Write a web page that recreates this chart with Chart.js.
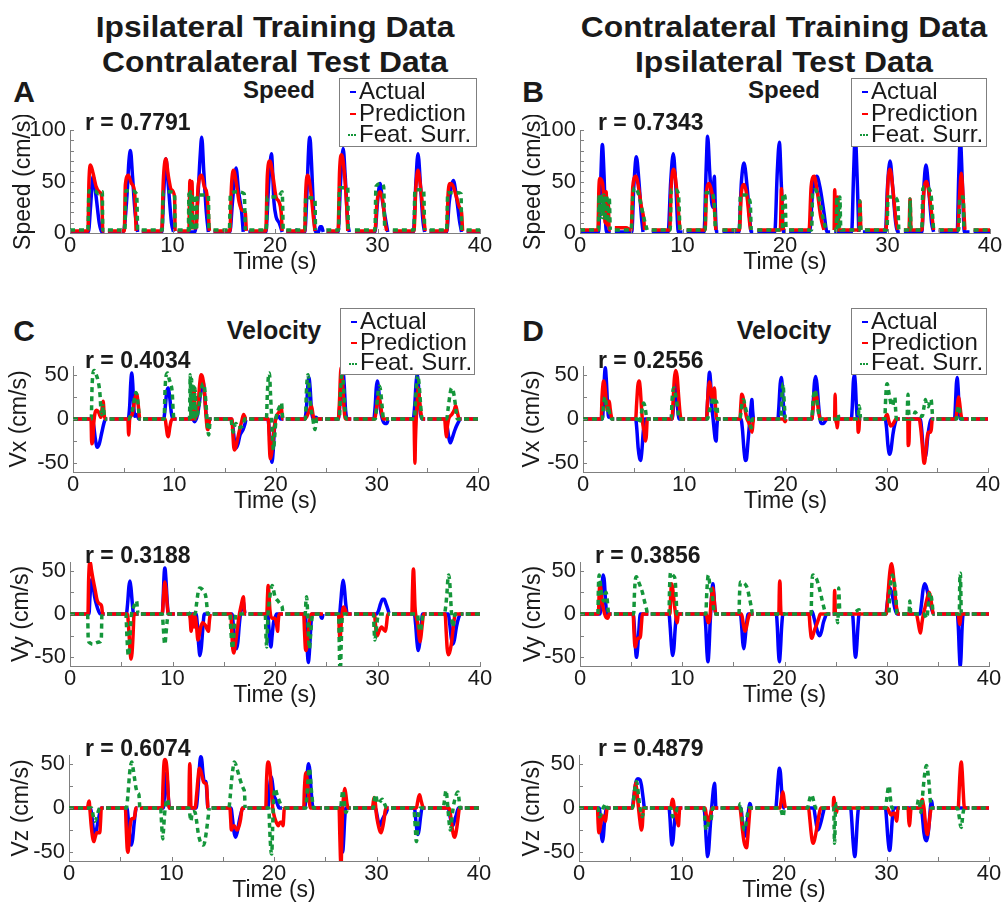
<!DOCTYPE html>
<html>
<head>
<meta charset="utf-8">
<script src="https://cdn.jsdelivr.net/npm/chart.js@4.4.0/dist/chart.umd.min.js"></script>
<style>
body{margin:0;background:#fff;width:1003px;height:905px;position:relative;overflow:hidden;font-family:"Liberation Sans",Arial,sans-serif;color:#1a1a1a}
canvas{position:absolute}
.t{position:absolute;white-space:nowrap;line-height:1;transform:translate(-50%,-50%)}
.w{transform:translate(-50%,-50%) scaleX(1.06)}
.l{position:absolute;white-space:nowrap;line-height:1;transform:translateY(-50%)}
.b{font-weight:bold}
.leg{position:absolute;border:1px solid #7f7f7f;background:#fff;box-sizing:border-box}
.leg div{position:absolute;left:19px;font-size:24px;line-height:1;transform:translateY(-50%)}
.leg span{position:absolute;left:-9px;top:52%;width:6px;border-top:2px solid}
</style>
</head>
<body>
<div class="t w b" style="left:275px;top:27px;font-size:30px">Ipsilateral Training Data</div>
<div class="t w b" style="left:275px;top:62px;font-size:30px">Contralateral Test Data</div>
<div class="t w b" style="left:784px;top:27px;font-size:30px">Contralateral Training Data</div>
<div class="t w b" style="left:784px;top:62px;font-size:30px">Ipsilateral Test Data</div>

<div class="t b" style="left:24px;top:92px;font-size:30px">A</div>
<div class="t b" style="left:533px;top:92px;font-size:30px">B</div>
<div class="t b" style="left:24px;top:331px;font-size:30px">C</div>
<div class="t b" style="left:533px;top:331px;font-size:30px">D</div>

<div id="charts"></div>

<div class="t b" style="left:279px;top:90px;font-size:24px">Speed</div>
<div class="t b" style="left:784px;top:90px;font-size:24px">Speed</div>
<div class="t b" style="left:274px;top:330px;font-size:25px">Velocity</div>
<div class="t b" style="left:784px;top:330px;font-size:25px">Velocity</div>

<div class="l b" style="left:85px;top:122px;font-size:23px">r = 0.7791</div>
<div class="l b" style="left:598px;top:122px;font-size:23px">r = 0.7343</div>
<div class="l b" style="left:85px;top:360px;font-size:23px">r = 0.4034</div>
<div class="l b" style="left:598px;top:360px;font-size:23px">r = 0.2556</div>
<div class="l b" style="left:85px;top:555px;font-size:23px">r = 0.3188</div>
<div class="l b" style="left:595px;top:555px;font-size:23px">r = 0.3856</div>
<div class="l b" style="left:85px;top:748px;font-size:23px">r = 0.6074</div>
<div class="l b" style="left:598px;top:748px;font-size:23px">r = 0.4879</div>

<div id="legends"></div>

<script>
// tick values
const timeTicks = [0, 10, 20, 30, 40];
const timeMinor = [0, 5, 10, 15, 20, 25, 30, 35, 40];
const speedTicks = [0, 50, 100];
const speedMinor = [0, 10, 20, 30, 40, 50, 60, 70, 80, 90, 100];
const velTicks = [-50, 0, 50];
const velMinor = [-50, -25, 0, 25, 50];
const seriesNames = ["Actual", "Prediction", "Feat. Surr."];

// A: speed, ipsi train / contra test   ([t, v]; v = null marks a break)
const aSpdAct = [[0,1],[1.8,1],[2.0,25],[2.25,55],[2.55,35],[2.85,10],[3.1,1],[3.35,1],[3.5,null],[3.7,1],
  [5.2,1],[5.55,35],[5.75,70],[5.9,80],[6.1,55],[6.35,20],[6.6,1],[6.8,null],[7.0,1],
  [8.95,1],[9.15,40],[9.35,72],[9.6,45],[9.9,10],[10.1,1],[10.3,null],[10.5,1],
  [12.2,1],[12.45,30],[12.7,75],[12.85,93],[13.05,60],[13.3,20],[13.5,1],[13.8,null],[14.0,1],
  [15.6,1],[15.85,30],[16.2,63],[16.45,40],[16.75,20],[16.9,1],[17.2,null],[17.4,1],
  [19.1,1],[19.4,50],[19.65,77],[19.9,30],[20.1,16],[20.4,10],[20.7,1],[20.9,null],[21.1,1],
  [21.9,1],[22.1,3],[22.3,1],[22.9,1],[23.1,35],[23.3,85],[23.4,93],[23.55,70],[23.75,25],[23.95,1],[24.25,1],[24.4,6],[24.55,6],[24.7,1],[24.8,null],[25.0,1],
  [26.15,1],[26.4,50],[26.65,82],[26.85,55],[27.1,10],[27.25,1],[27.6,null],[27.8,1],
  [29.75,1],[30.0,30],[30.25,48],[30.5,30],[30.75,15],[31.0,1],[31.3,null],[31.5,1],
  [33.5,1],[33.75,50],[33.95,77],[34.2,45],[34.45,10],[34.6,1],[34.9,null],[35.1,1],
  [36.75,1],[37.0,30],[37.4,51],[37.7,35],[38.0,12],[38.2,1],[38.5,null],[38.7,1],[40,1]];
const aSpdPred = [[0,2],[1.75,2],[1.85,50],[2.0,66],[2.25,58],[2.55,45],[2.85,40],[3.1,35],[3.2,2],[3.35,2],[3.5,null],[3.7,2],
  [5.3,2],[5.4,47],[5.7,56],[6.0,48],[6.3,40],[6.45,2],[6.8,null],[7.0,2],
  [8.95,2],[9.1,50],[9.35,72],[9.6,55],[9.9,42],[10.2,35],[10.25,2],[10.35,null],[10.5,2],
  [11.6,2],[11.7,51],[11.8,5],[11.9,50],[12.0,5],[12.3,5],[12.5,45],[12.85,56],[13.1,45],[13.35,38],[13.6,2],[13.8,null],[14.0,2],
  [15.6,2],[15.75,45],[15.95,61],[16.2,50],[16.5,30],[16.8,22],[17.1,20],[17.2,2],[17.3,null],[17.5,2],
  [19.1,2],[19.25,55],[19.5,70],[19.8,55],[20.1,35],[20.4,30],[20.6,20],[20.7,2],[20.9,null],[21.1,2],
  [22.9,2],[23.0,40],[23.2,56],[23.5,40],[23.75,15],[23.9,2],[24.8,null],[25.0,2],
  [26.15,2],[26.3,60],[26.5,76],[26.75,60],[27.0,25],[27.1,2],[27.6,null],[27.8,2],
  [29.75,2],[29.95,30],[30.25,40],[30.5,32],[30.75,10],[30.9,2],[31.3,null],[31.5,2],
  [33.55,2],[33.75,45],[33.95,61],[34.2,45],[34.5,15],[34.65,2],[34.9,null],[35.1,2],
  [36.75,2],[36.9,40],[37.1,48],[37.4,45],[37.7,35],[38.0,25],[38.2,20],[38.3,2],[38.5,null],[38.7,2],[40,2]];
const aSpdSurr = [[0,3],[1.75,3],[1.85,41],[2.4,41],[2.8,38],[3.15,40],[3.2,3],[3.35,3],[3.5,null],[3.7,3],
  [5.35,3],[5.45,41],[6.0,41],[6.5,38],[6.6,3],[6.8,null],[7.0,3],
  [9.0,3],[9.1,40],[9.7,40],[10.2,38],[10.25,3],[10.35,null],[10.5,3],
  [11.55,3],[11.6,38],[11.65,3],[11.75,40],[11.8,3],[11.9,38],[11.95,3],[12.1,3],[12.15,37],[12.2,3],[12.35,3],[12.4,37],[13.0,37],[13.5,36],[13.55,3],[13.8,null],[14.0,3],
  [15.55,3],[15.65,38],[16.3,40],[17.0,38],[17.1,3],[17.3,null],[17.5,3],
  [19.15,3],[19.25,35],[19.8,35],[20.4,36],[20.7,40],[20.8,3],[20.9,null],[21.1,3],
  [22.9,3],[23.0,35],[23.6,34],[23.9,33],[23.95,3],[24.8,null],[25.0,3],
  [26.2,3],[26.3,44],[27.1,44],[27.15,3],[27.6,null],[27.8,3],
  [29.75,3],[29.85,45],[30.3,48],[30.6,45],[30.7,3],[31.3,null],[31.5,3],
  [33.55,3],[33.65,42],[34.5,42],[34.6,3],[34.9,null],[35.1,3],
  [36.75,3],[36.85,39],[37.8,39],[38.15,38],[38.2,3],[38.5,null],[38.7,3],[40,3]];

// B: speed, contra train / ipsi test
const bSpdAct = [[0,1],[1.8,1],[2.0,45],[2.18,86],[2.35,55],[2.5,10],[2.6,1],[3.0,1],[3.2,null],[3.4,1],
  [5.05,1],[5.25,45],[5.5,74],[5.75,50],[6.0,15],[6.15,1],[6.8,null],[7.0,1],
  [8.6,1],[8.85,50],[9.1,77],[9.35,45],[9.6,1],[10.0,1],[10.2,null],[10.4,1],
  [12.1,1],[12.3,60],[12.45,94],[12.65,60],[12.85,30],[12.95,25],[13.1,55],[13.2,25],[13.3,1],[13.5,1],[13.7,null],[13.9,1],
  [15.5,1],[15.75,50],[16.0,68],[16.3,45],[16.55,15],[16.7,1],[16.9,1],[17.1,null],[17.3,1],
  [19.0,1],[19.25,60],[19.45,88],[19.65,45],[19.85,1],[20.0,1],[20.2,null],[20.4,1],
  [22.4,1],[22.7,40],[23.1,55],[23.4,45],[23.8,20],[24.1,1],[24.4,1],[24.6,null],[24.8,1],
  [26.5,1],[26.7,60],[26.85,95],[27.05,50],[27.2,1],[27.4,null],[27.6,1],
  [29.8,1],[30.0,45],[30.25,70],[30.5,45],[30.8,10],[31.0,1],[31.2,1],[31.4,null],[31.6,1],
  [33.35,1],[33.55,45],[33.75,66],[34.0,45],[34.3,10],[34.5,1],[34.8,null],[35.0,1],
  [36.8,1],[36.95,55],[37.1,92],[37.3,50],[37.5,1],[38.0,1],[38.2,null],[38.4,1],[40,1]];
const bSpdPred = [[0,3],[1.75,3],[1.85,45],[1.95,53],[2.2,48],[2.35,30],[2.45,10],[2.55,40],[2.65,8],[2.75,30],[2.85,3],[3.0,3],[3.2,null],[3.4,5],[4.5,5],[5.0,3],
  [5.15,45],[5.45,55],[5.75,42],[6.0,25],[6.2,15],[6.3,3],[6.8,null],[7.0,3],
  [8.75,3],[8.9,45],[9.15,62],[9.4,45],[9.65,15],[9.75,3],[10.2,null],[10.4,3],
  [12.2,3],[12.35,40],[12.6,48],[12.85,40],[13.1,25],[13.25,3],[13.7,null],[13.9,3],
  [15.55,3],[15.75,40],[16.0,47],[16.3,35],[16.55,10],[16.65,3],[17.1,null],[17.3,3],
  [19.55,3],[19.65,43],[19.75,10],[19.9,3],[20.2,null],[20.4,3],
  [22.35,3],[22.55,45],[22.85,55],[23.15,40],[23.5,15],[23.8,3],[24.6,null],[24.8,3],
  [24.85,42],[24.95,3],[25.1,3],[25.15,35],[25.25,3],
  [27.25,3],[27.3,31],[27.4,3],[27.6,null],[27.8,3],
  [29.85,3],[30.05,50],[30.25,62],[30.55,40],[30.85,10],[31.0,3],[31.4,null],[31.6,3],
  [32.1,3],[32.2,33],[32.3,3],[33.35,3],[33.55,40],[33.8,50],[34.1,35],[34.35,15],[34.5,3],[34.8,null],[35.0,3],
  [36.85,3],[37.0,30],[37.2,58],[37.4,30],[37.55,3],[38.2,null],[38.4,3],[40,3]];
const bSpdSurr = [[0,3],[1.8,3],[1.85,37],[1.95,15],[2.05,37],[2.2,15],[2.35,37],[2.5,12],[2.6,37],[2.75,10],[2.85,35],[2.95,3],[3.2,null],[3.4,3],
  [5.0,3],[5.15,35],[5.35,44],[5.7,38],[6.0,25],[6.3,12],[6.55,3],[6.8,null],[7.0,3],
  [8.8,3],[8.9,42],[9.3,42],[9.6,38],[9.75,3],[10.2,null],[10.4,3],
  [12.2,3],[12.3,39],[12.8,39],[13.1,30],[13.2,3],[13.7,null],[13.9,3],
  [15.55,3],[15.65,37],[16.1,37],[16.6,30],[16.7,3],[17.1,null],[17.3,3],
  [19.75,3],[19.8,38],[20.0,35],[20.1,3],[20.2,null],[20.4,3],
  [22.6,3],[22.7,40],[22.9,42],[23.3,35],[23.7,15],[24.0,3],[24.6,null],[24.8,3],
  [25.0,3],[25.05,35],[25.15,3],[25.3,3],[25.35,35],[25.45,3],
  [27.25,3],[27.3,31],[27.4,3],[27.6,null],[27.8,3],
  [29.95,3],[30.05,35],[30.6,35],[31.0,30],[31.1,3],[31.4,null],[31.6,3],
  [32.15,3],[32.2,33],[32.3,3],[33.35,3],[33.45,43],[33.65,45],[34.2,40],[34.5,3],[34.8,null],[35.0,3],
  [36.95,3],[37.05,35],[37.4,35],[37.45,3],[38.2,null],[38.4,3],[40,3]];

// C: Vx, ipsi train
const cVxAct = [[0,0],[1.9,0],[2.05,-8],[2.2,-22],[2.4,-32],[2.6,-28],[2.85,-15],[3.1,-3],[3.25,0],[3.38,0],[3.5,null],[3.62,0],
  [5.45,0],[5.6,15],[5.7,40],[5.8,52],[5.9,40],[6.0,15],[6.1,3],[6.3,5],[6.5,0],[6.68,0],[6.8,null],[6.92,0],
  [8.95,0],[9.1,12],[9.25,30],[9.4,35],[9.55,25],[9.7,8],[9.85,0],[10.23,0],[10.35,null],[10.47,0],
  [11.8,0],[12.0,-3],[12.3,5],[12.5,20],[12.7,38],[12.85,42],[13.0,28],[13.15,5],[13.3,-3],[13.5,0],[13.68,0],[13.8,null],[13.92,0],
  [15.65,0],[15.8,-10],[15.95,-25],[16.1,-33],[16.3,-28],[16.5,-18],[16.8,-12],[17.0,-5],[17.1,0],[17.18,0],[17.3,null],[17.42,0],
  [19.25,0],[19.4,-15],[19.55,-40],[19.65,-49],[19.78,-35],[19.9,-10],[20.0,0],[20.3,3],[20.5,0],[20.78,0],[20.9,null],[21.02,0],
  [22.9,0],[23.05,12],[23.2,38],[23.3,47],[23.42,35],[23.55,10],[23.7,0],[24.0,2],[24.2,0],[24.68,0],[24.8,null],[24.92,0],
  [26.2,0],[26.35,15],[26.5,45],[26.65,57],[26.78,40],[26.92,10],[27.1,0],[27.48,0],[27.6,null],[27.72,0],
  [29.7,0],[29.85,15],[29.95,35],[30.05,43],[30.2,32],[30.35,12],[30.55,0],[30.8,-5],[31.0,-5],[31.15,0],[31.18,0],[31.3,null],[31.42,0],
  [33.6,0],[33.75,15],[33.88,40],[34.0,50],[34.12,38],[34.25,12],[34.45,0],[34.78,0],[34.9,null],[35.02,0],
  [36.8,0],[36.95,-8],[37.1,-20],[37.25,-27],[37.45,-22],[37.7,-13],[38.0,-5],[38.3,0],[38.38,0],[38.5,null],[38.62,0],[40,0]];
const cVxPred = [[0,0],[1.78,0],[1.85,-28],[1.95,-25],[2.05,-5],[2.2,8],[2.35,10],[2.55,7],[2.75,2],[2.9,15],[2.98,20],[3.08,5],[3.2,0],[3.38,0],[3.5,null],[3.62,0],
  [5.42,0],[5.5,-18],[5.6,0],[5.85,5],[6.0,15],[6.15,25],[6.3,28],[6.45,15],[6.6,0],[6.68,0],[6.8,null],[6.92,0],
  [9.1,0],[9.2,-8],[9.32,-18],[9.42,-20],[9.55,-10],[9.7,-2],[9.85,0],[10.23,0],[10.35,null],[10.47,0],
  [11.7,0],[11.78,30],[11.85,0],[11.95,35],[12.05,0],[12.35,15],[12.5,38],[12.65,50],[12.8,47],[12.95,35],[13.1,10],[13.25,-10],[13.35,-12],[13.5,0],[13.68,0],[13.8,null],[13.92,0],
  [15.7,0],[15.78,-15],[15.88,-32],[15.98,-35],[16.15,-28],[16.4,-15],[16.65,-3],[16.85,5],[16.95,3],[17.05,0],[17.18,0],[17.3,null],[17.42,0],
  [19.3,0],[19.38,-25],[19.48,-45],[19.6,-40],[19.75,-25],[19.9,-8],[20.1,3],[20.35,8],[20.55,15],[20.65,5],[20.72,0],[20.78,0],[20.9,null],[21.02,0],
  [22.9,0],[23.1,3],[23.35,10],[23.55,15],[23.7,5],[23.8,0],[24.68,0],[24.8,null],[24.92,0],
  [26.2,0],[26.32,20],[26.42,50],[26.5,58],[26.6,45],[26.75,15],[26.9,0],[27.48,0],[27.6,null],[27.72,0],
  [29.8,0],[29.95,10],[30.1,22],[30.2,25],[30.35,18],[30.5,6],[30.65,0],[31.18,0],[31.3,null],[31.42,0],
  [33.68,0],[33.73,-30],[33.77,-50],[33.82,-25],[33.9,0],[34.0,20],[34.1,35],[34.2,25],[34.35,8],[34.5,0],[34.78,0],[34.9,null],[35.02,0],
  [36.7,0],[36.8,-12],[36.88,-20],[36.98,-8],[37.1,0],[37.4,5],[37.65,10],[37.8,15],[37.95,8],[38.15,0],[38.38,0],[38.5,null],[38.62,0],[40,0]];
const cVxSurr = [[0,0],[1.8,0],[1.88,35],[1.98,52],[2.1,55],[2.3,50],[2.5,42],[2.65,30],[2.78,8],[2.88,5],[2.98,15],[3.08,5],[3.15,0],[3.38,0],[3.5,null],[3.62,0],
  [5.5,0],[5.7,5],[5.9,12],[6.05,22],[6.2,30],[6.35,25],[6.5,8],[6.58,0],[6.68,0],[6.8,null],[6.92,0],
  [9.0,0],[9.08,30],[9.18,48],[9.35,52],[9.5,45],[9.65,40],[9.8,30],[9.9,8],[9.98,0],[10.23,0],[10.35,null],[10.47,0],
  [11.5,0],[11.58,50],[11.65,0],[11.72,45],[11.8,0],[11.88,40],[11.95,0],[12.05,35],[12.15,0],[12.45,15],[12.65,32],[12.85,40],[13.0,35],[13.15,15],[13.3,-10],[13.4,-18],[13.52,-5],[13.6,0],[13.68,0],[13.8,null],[13.92,0],
  [15.6,0],[15.72,-10],[15.82,-15],[15.95,-8],[16.1,-5],[16.3,-10],[16.6,-9],[16.85,-6],[16.95,0],[17.18,0],[17.3,null],[17.42,0],
  [19.1,0],[19.2,30],[19.3,48],[19.4,52],[19.5,30],[19.62,0],[19.72,-25],[19.8,-35],[19.92,-20],[20.05,0],[20.25,10],[20.5,16],[20.6,18],[20.68,5],[20.75,0],[20.78,0],[20.9,null],[21.02,0],
  [22.95,0],[23.05,30],[23.15,48],[23.22,50],[23.35,30],[23.5,12],[23.65,3],[23.8,-8],[23.9,-12],[24.0,-5],[24.1,0],[24.68,0],[24.8,null],[24.92,0],
  [26.3,0],[26.42,30],[26.52,50],[26.6,55],[26.7,40],[26.85,12],[27.0,0],[27.48,0],[27.6,null],[27.72,0],
  [29.85,0],[30.0,15],[30.15,32],[30.28,37],[30.4,30],[30.55,12],[30.68,0],[31.18,0],[31.3,null],[31.42,0],
  [33.72,0],[33.82,20],[33.95,42],[34.05,50],[34.18,40],[34.32,18],[34.48,0],[34.78,0],[34.9,null],[35.02,0],
  [36.9,0],[37.05,12],[37.2,25],[37.38,35],[37.55,32],[37.72,20],[37.88,5],[37.95,0],[38.38,0],[38.5,null],[38.62,0],[40,0]];

// D: Vx, contra train
const dVxAct = [[0,0],[1.92,0],[2.02,20],[2.12,48],[2.2,58],[2.3,45],[2.42,18],[2.52,2],[2.7,3],[2.85,0],[3.08,0],[3.2,null],[3.32,0],
  [5.2,0],[5.32,-12],[5.45,-33],[5.6,-45],[5.68,-47],[5.8,-38],[5.95,-15],[6.1,0],[6.68,0],[6.8,null],[6.92,0],
  [8.8,0],[8.92,12],[9.02,32],[9.12,40],[9.22,32],[9.35,12],[9.5,0],[10.08,0],[10.2,null],[10.32,0],
  [12.2,0],[12.3,18],[12.42,45],[12.5,53],[12.6,42],[12.72,15],[12.85,0],[12.95,-12],[13.05,-22],[13.15,-25],[13.22,-10],[13.3,0],[13.58,0],[13.7,null],[13.82,0],
  [15.6,0],[15.75,-12],[15.9,-35],[16.05,-47],[16.15,-45],[16.3,-25],[16.45,-5],[16.58,12],[16.68,22],[16.75,10],[16.85,0],[16.98,0],[17.1,null],[17.22,0],
  [19.25,0],[19.35,15],[19.48,40],[19.58,47],[19.68,38],[19.8,15],[19.95,0],[20.08,0],[20.2,null],[20.32,0],
  [22.6,0],[22.72,15],[22.85,40],[22.98,48],[23.1,40],[23.25,18],[23.4,0],[23.55,-5],[23.75,-5],[23.95,-2],[24.1,0],[24.48,0],[24.6,null],[24.72,0],
  [26.5,0],[26.6,15],[26.7,42],[26.8,50],[26.9,40],[27.0,15],[27.12,0],[27.48,0],[27.6,null],[27.72,0],
  [29.85,0],[29.98,-10],[30.12,-30],[30.28,-40],[30.42,-35],[30.6,-18],[30.8,-6],[31.0,0],[31.28,0],[31.4,null],[31.52,0],
  [33.3,0],[33.45,-12],[33.6,-35],[33.75,-45],[33.9,-38],[34.05,-20],[34.25,-5],[34.4,0],[34.68,0],[34.8,null],[34.92,0],
  [36.7,0],[36.78,15],[36.88,40],[36.95,47],[37.05,35],[37.15,12],[37.28,0],[38.08,0],[38.2,null],[38.32,0],[40,0]];
const dVxPred = [[0,0],[1.8,0],[1.88,25],[1.98,40],[2.06,43],[2.15,38],[2.28,22],[2.4,10],[2.5,12],[2.6,20],[2.68,12],[2.78,4],[2.9,0],[3.08,0],[3.2,null],[3.32,0],
  [5.2,0],[5.3,18],[5.42,38],[5.55,43],[5.65,35],[5.78,12],[5.9,-5],[6.05,-15],[6.15,-25],[6.25,-20],[6.35,0],[6.68,0],[6.8,null],[6.92,0],
  [8.8,0],[8.9,20],[9.02,45],[9.15,55],[9.3,48],[9.45,25],[9.6,5],[9.7,0],[10.08,0],[10.2,null],[10.32,0],
  [12.2,0],[12.3,20],[12.42,38],[12.52,42],[12.65,30],[12.78,22],[12.9,32],[12.98,35],[13.08,15],[13.2,0],[13.58,0],[13.7,null],[13.82,0],
  [15.5,0],[15.6,18],[15.68,28],[15.8,25],[15.95,15],[16.15,2],[16.4,-5],[16.6,-12],[16.7,-15],[16.78,-5],[16.85,0],[16.98,0],[17.1,null],[17.22,0],
  [19.8,0],[19.95,-3],[20.08,0],[20.2,null],[20.32,0],
  [22.6,0],[22.72,12],[22.85,25],[22.95,30],[23.08,25],[23.25,10],[23.45,0],[24.48,0],[24.6,null],[24.72,0],
  [24.85,0],[24.9,28],[24.96,0],[25.05,-5],[25.12,-10],[25.2,0],
  [27.12,0],[27.18,-15],[27.25,-12],[27.32,0],[27.48,0],[27.6,null],[27.72,0],
  [29.8,0],[29.95,4],[30.05,5],[30.2,-2],[30.4,-8],[30.55,-7],[30.75,-3],[30.9,0],[31.28,0],[31.4,null],[31.52,0],
  [32.08,0],[32.12,-30],[32.2,-25],[32.26,0],[33.2,0],[33.35,-10],[33.5,-28],[33.65,-48],[33.72,-50],[33.85,-38],[34.0,-20],[34.1,-15],[34.3,-15],[34.4,-12],[34.5,0],[34.68,0],[34.8,null],[34.92,0],
  [36.8,0],[36.92,8],[37.02,20],[37.1,25],[37.2,18],[37.32,6],[37.45,0],[38.08,0],[38.2,null],[38.32,0],[40,0]];
const dVxSurr = [[0,0],[1.9,0],[2.0,12],[2.1,22],[2.2,25],[2.3,15],[2.4,10],[2.5,15],[2.6,8],[2.7,3],[2.8,0],[3.08,0],[3.2,null],[3.32,0],
  [5.4,0],[5.55,-5],[5.7,2],[5.85,12],[5.98,18],[6.1,15],[6.2,8],[6.3,0],[6.68,0],[6.8,null],[6.92,0],
  [8.7,0],[8.8,22],[8.9,33],[8.98,35],[9.1,30],[9.25,20],[9.38,8],[9.5,0],[10.08,0],[10.2,null],[10.32,0],
  [12.3,0],[12.45,8],[12.65,15],[12.8,22],[12.9,25],[13.0,15],[13.08,10],[13.18,20],[13.25,15],[13.32,0],[13.58,0],[13.7,null],[13.82,0],
  [15.5,0],[15.62,10],[15.75,20],[15.85,22],[16.0,15],[16.15,8],[16.35,0],[16.55,-8],[16.62,-10],[16.72,0],[16.98,0],[17.1,null],[17.22,0],
  [19.55,0],[19.62,20],[19.7,35],[19.76,40],[19.82,30],[19.92,10],[20.0,0],[20.08,0],[20.2,null],[20.32,0],
  [22.6,0],[22.7,18],[22.82,30],[22.92,33],[23.05,25],[23.2,12],[23.4,0],[24.48,0],[24.6,null],[24.72,0],
  [25.12,0],[25.2,5],[25.28,0],[27.18,0],[27.26,15],[27.35,10],[27.42,0],[27.48,0],[27.6,null],[27.72,0],
  [29.8,0],[29.9,25],[29.98,38],[30.05,40],[30.18,32],[30.3,24],[30.45,16],[30.58,15],[30.72,22],[30.8,25],[30.88,10],[30.95,0],[31.28,0],[31.4,null],[31.52,0],
  [32.0,0],[32.06,20],[32.1,28],[32.16,10],[32.22,0],[32.6,0],[32.8,8],[33.0,5],[33.5,3],[33.7,15],[33.82,22],[33.95,15],[34.1,14],[34.25,20],[34.38,22],[34.48,10],[34.55,0],[34.68,0],[34.8,null],[34.92,0],
  [36.9,0],[36.98,8],[37.06,14],[37.12,15],[37.22,8],[37.35,0],[38.08,0],[38.2,null],[38.32,0],[40,0]];

// E: Vy, ipsi train
const eVyAct = [[0,0],[1.85,0],[1.95,20],[2.05,35],[2.12,40],[2.25,33],[2.4,20],[2.6,10],[2.8,3],[2.95,0],[3.38,0],[3.5,null],[3.62,0],
  [5.5,0],[5.62,12],[5.75,32],[5.85,38],[5.95,30],[6.08,12],[6.2,0],[6.68,0],[6.8,null],[6.92,0],
  [9.0,0],[9.08,15],[9.18,45],[9.26,53],[9.35,42],[9.48,15],[9.6,0],[10.23,0],[10.35,null],[10.47,0],
  [12.3,0],[12.42,-12],[12.55,-35],[12.68,-48],[12.8,-40],[12.95,-18],[13.1,0],[13.68,0],[13.8,null],[13.92,0],
  [15.8,0],[15.95,-15],[16.1,-33],[16.25,-40],[16.38,-32],[16.52,-12],[16.65,2],[16.78,10],[16.9,15],[16.98,8],[17.08,0],[17.18,0],[17.3,null],[17.42,0],
  [19.3,0],[19.4,-15],[19.5,-32],[19.6,-38],[19.72,-25],[19.85,-10],[20.0,-5],[20.15,0],[20.78,0],[20.9,null],[21.02,0],
  [22.95,0],[23.05,-15],[23.15,-42],[23.25,-56],[23.35,-45],[23.48,-18],[23.6,0],[24.42,0],[24.5,-4],[24.6,-5],[24.68,0],[24.8,null],[24.92,0],
  [26.3,0],[26.4,12],[26.55,32],[26.65,39],[26.75,32],[26.9,12],[27.05,0],[27.48,0],[27.6,null],[27.72,0],
  [29.9,0],[30.1,4],[30.3,12],[30.5,17],[30.65,17],[30.85,11],[31.05,4],[31.15,0],[31.18,0],[31.3,null],[31.42,0],
  [33.6,0],[33.72,-12],[33.85,-32],[33.98,-42],[34.1,-35],[34.25,-15],[34.4,0],[34.78,0],[34.9,null],[35.02,0],
  [36.9,0],[37.05,-12],[37.2,-28],[37.35,-35],[37.5,-30],[37.7,-15],[37.9,-5],[38.1,0],[38.38,0],[38.5,null],[38.62,0],[40,0]];
const eVyPred = [[0,0],[1.75,0],[1.82,40],[1.9,58],[1.98,60],[2.08,52],[2.25,40],[2.45,28],[2.65,16],[2.85,12],[3.0,11],[3.1,8],[3.18,0],[3.38,0],[3.5,null],[3.62,0],
  [5.6,0],[5.72,-15],[5.85,-40],[5.95,-52],[6.05,-45],[6.15,-25],[6.25,0],[6.68,0],[6.8,null],[6.92,0],
  [9.0,0],[9.1,15],[9.2,33],[9.26,37],[9.35,30],[9.48,10],[9.6,0],[10.23,0],[10.35,null],[10.47,0],
  [11.6,0],[11.72,-5],[11.82,-20],[11.92,-5],[12.02,0],[12.1,-15],[12.2,-3],[12.35,-15],[12.48,-30],[12.6,-25],[12.75,-15],[12.95,-10],[13.2,-13],[13.4,-18],[13.5,-20],[13.6,-8],[13.68,0],[13.8,null],[13.92,0],
  [15.7,0],[15.78,-20],[15.88,-40],[15.98,-45],[16.1,-38],[16.3,-20],[16.5,-2],[16.7,10],[16.85,18],[16.92,20],[17.0,5],[17.08,0],[17.18,0],[17.3,null],[17.42,0],
  [19.2,0],[19.27,20],[19.33,33],[19.4,25],[19.5,5],[19.7,-5],[20.0,-5],[20.15,-12],[20.25,-20],[20.32,-8],[20.4,0],[20.78,0],[20.9,null],[21.02,0],
  [22.8,0],[22.88,-20],[22.97,-40],[23.05,-42],[23.15,-35],[23.3,-15],[23.45,-3],[23.55,0],[24.68,0],[24.8,null],[24.92,0],
  [26.2,0],[26.27,-18],[26.34,-30],[26.42,-18],[26.52,-3],[26.62,6],[26.7,8],[26.85,5],[27.0,0],[27.48,0],[27.6,null],[27.72,0],
  [29.7,0],[29.8,-12],[29.9,-23],[29.98,-25],[30.15,-20],[30.4,-15],[30.6,-18],[30.78,-20],[30.9,-10],[31.0,0],[31.18,0],[31.3,null],[31.42,0],
  [33.35,0],[33.42,30],[33.48,50],[33.52,52],[33.58,35],[33.66,8],[33.72,0],[33.9,-10],[34.05,-25],[34.15,-32],[34.25,-25],[34.4,-8],[34.5,0],[34.78,0],[34.9,null],[35.02,0],
  [36.6,0],[36.7,-20],[36.8,-40],[36.9,-47],[37.02,-45],[37.2,-35],[37.35,-20],[37.5,-5],[37.6,0],[38.38,0],[38.5,null],[38.62,0],[40,0]];
const eVySurr = [[0,0],[1.72,0],[1.78,-30],[1.9,-33],[2.2,-35],[2.6,-33],[2.95,-32],[3.05,-30],[3.12,0],[3.38,0],[3.5,null],[3.62,0],
  [5.45,0],[5.55,-25],[5.65,-45],[5.72,-48],[5.82,-35],[5.92,-12],[6.0,0],[6.2,8],[6.4,13],[6.5,15],[6.58,5],[6.65,0],[6.68,0],[6.8,null],[6.92,0],
  [9.0,0],[9.1,-15],[9.2,-32],[9.26,-35],[9.35,-25],[9.48,-8],[9.6,0],[10.23,0],[10.35,null],[10.47,0],
  [11.6,0],[11.9,3],[12.2,0],[12.35,12],[12.5,25],[12.65,30],[12.85,29],[13.05,26],[13.25,20],[13.35,10],[13.42,0],[13.68,0],[13.8,null],[13.92,0],
  [15.6,0],[15.7,-20],[15.8,-36],[15.86,-40],[15.95,-30],[16.08,-10],[16.2,0],[17.18,0],[17.3,null],[17.42,0],
  [19.05,0],[19.12,-25],[19.18,-38],[19.25,-20],[19.32,0],[19.45,15],[19.6,28],[19.72,33],[19.85,28],[20.0,20],[20.3,15],[20.6,10],[20.7,8],[20.78,0],[20.9,null],[21.02,0],
  [22.95,0],[23.02,15],[23.08,20],[23.15,10],[23.22,-10],[23.3,-32],[23.36,-40],[23.45,-28],[23.58,-8],[23.7,0],[24.68,0],[24.8,null],[24.92,0],
  [26.2,0],[26.27,-35],[26.32,-62],[26.38,-65],[26.46,-35],[26.55,-5],[26.62,0],[27.48,0],[27.6,null],[27.72,0],
  [29.6,0],[29.67,-18],[29.74,-30],[29.82,-25],[29.95,-10],[30.1,0],[31.18,0],[31.3,null],[31.42,0],
  [33.9,0],[34.0,-10],[34.1,-18],[34.18,-20],[34.3,-12],[34.45,0],[34.78,0],[34.9,null],[35.02,0],
  [36.5,0],[36.65,8],[36.78,25],[36.88,42],[36.95,45],[37.05,36],[37.15,15],[37.25,-5],[37.35,-15],[37.45,-8],[37.55,0],[38.38,0],[38.5,null],[38.62,0],[40,0]];

// F: Vy, contra train
const fVyAct = [[0,0],[1.95,0],[2.05,12],[2.15,32],[2.28,45],[2.38,38],[2.5,15],[2.62,0],[3.08,0],[3.2,null],[3.32,0],
  [5.2,0],[5.3,-12],[5.42,-38],[5.52,-50],[5.62,-42],[5.75,-20],[5.9,0],[6.68,0],[6.8,null],[6.92,0],
  [8.7,0],[8.82,-15],[8.95,-38],[9.08,-48],[9.18,-40],[9.32,-15],[9.48,0],[10.08,0],[10.2,null],[10.32,0],
  [12.2,0],[12.3,-15],[12.42,-45],[12.52,-55],[12.62,-40],[12.72,-12],[12.82,10],[12.92,28],[13.0,35],[13.08,25],[13.2,5],[13.3,0],[13.58,0],[13.7,null],[13.82,0],
  [15.7,0],[15.8,-12],[15.92,-33],[16.02,-40],[16.12,-32],[16.28,-12],[16.45,0],[16.98,0],[17.1,null],[17.22,0],
  [19.2,0],[19.3,-15],[19.4,-42],[19.5,-55],[19.6,-42],[19.72,-15],[19.85,0],[20.08,0],[20.2,null],[20.32,0],
  [22.5,0],[22.7,3],[22.9,-5],[23.1,-15],[23.3,-23],[23.45,-25],[23.62,-20],[23.8,-10],[24.0,-3],[24.1,0],[24.48,0],[24.6,null],[24.72,0],
  [26.65,0],[26.75,-15],[26.85,-40],[26.95,-50],[27.05,-40],[27.18,-15],[27.3,0],[27.48,0],[27.6,null],[27.72,0],
  [29.9,0],[30.05,12],[30.18,25],[30.3,30],[30.45,26],[30.6,18],[30.8,6],[31.0,0],[31.28,0],[31.4,null],[31.52,0],
  [33.25,0],[33.4,12],[33.55,28],[33.7,35],[33.85,32],[34.05,22],[34.3,10],[34.5,2],[34.6,0],[34.68,0],[34.8,null],[34.92,0],
  [36.9,0],[37.0,-15],[37.1,-45],[37.18,-60],[37.26,-50],[37.36,-18],[37.48,0],[38.08,0],[38.2,null],[38.32,0],[40,0]];
const fVyPred = [[0,0],[1.8,0],[1.87,22],[1.95,35],[2.03,30],[2.15,15],[2.3,5],[2.5,-3],[2.65,-5],[2.75,-4],[2.85,0],[3.08,0],[3.2,null],[3.32,0],
  [5.2,0],[5.27,-18],[5.35,-35],[5.42,-38],[5.52,-32],[5.65,-28],[5.8,-28],[5.92,-25],[6.02,-10],[6.1,0],[6.68,0],[6.8,null],[6.92,0],
  [8.8,0],[8.86,18],[8.93,33],[8.98,35],[9.08,28],[9.22,12],[9.35,0],[9.45,-8],[9.52,-10],[9.6,0],[10.08,0],[10.2,null],[10.32,0],
  [12.35,0],[12.48,-8],[12.58,-10],[12.7,-5],[12.8,10],[12.92,25],[13.0,30],[13.08,22],[13.2,6],[13.3,0],[13.58,0],[13.7,null],[13.82,0],
  [15.8,0],[15.95,-10],[16.08,-18],[16.15,-20],[16.28,-15],[16.45,-5],[16.6,0],[16.98,0],[17.1,null],[17.22,0],
  [19.45,0],[19.49,25],[19.53,38],[19.57,35],[19.62,10],[19.67,0],[20.08,0],[20.2,null],[20.32,0],
  [22.4,0],[22.5,-15],[22.6,-26],[22.68,-28],[22.8,-24],[22.95,-18],[23.15,-12],[23.35,-5],[23.5,0],[24.48,0],[24.6,null],[24.72,0],
  [24.85,0],[24.88,20],[24.91,27],[24.95,10],[24.98,0],
  [29.95,0],[30.1,18],[30.25,42],[30.4,56],[30.48,58],[30.6,50],[30.75,32],[30.9,12],[31.05,2],[31.1,0],[31.28,0],[31.4,null],[31.52,0],
  [32.9,0],[33.05,-8],[33.2,-18],[33.3,-22],[33.42,-12],[33.55,-2],[33.75,8],[33.95,18],[34.15,25],[34.3,18],[34.45,6],[34.55,0],[34.68,0],[34.8,null],[34.92,0],
  [37.0,0],[37.08,-8],[37.15,-12],[37.22,-5],[37.3,0],[38.08,0],[38.2,null],[38.32,0],[40,0]];
const fVySurr = [[0,0],[1.75,0],[1.8,30],[1.87,45],[1.95,40],[2.05,28],[2.2,18],[2.35,15],[2.45,22],[2.55,25],[2.65,18],[2.75,5],[2.8,0],[3.08,0],[3.2,null],[3.32,0],
  [5.25,0],[5.33,25],[5.42,40],[5.52,43],[5.7,38],[5.9,32],[6.1,25],[6.3,15],[6.5,6],[6.6,0],[6.68,0],[6.8,null],[6.92,0],
  [8.7,0],[8.76,30],[8.82,45],[8.87,48],[9.0,46],[9.15,44],[9.3,40],[9.4,20],[9.48,0],[10.08,0],[10.2,null],[10.32,0],
  [12.3,0],[12.4,25],[12.5,42],[12.56,45],[12.65,38],[12.8,28],[12.95,20],[13.05,8],[13.12,0],[13.58,0],[13.7,null],[13.82,0],
  [15.55,0],[15.6,22],[15.67,35],[15.72,37],[15.9,36],[16.1,35],[16.35,30],[16.55,20],[16.75,8],[16.88,0],[16.98,0],[17.1,null],[17.22,0],
  [22.6,0],[22.66,30],[22.73,43],[22.8,45],[22.95,43],[23.15,40],[23.4,30],[23.6,20],[23.8,10],[23.95,3],[24.02,0],[24.48,0],[24.6,null],[24.72,0],
  [25.12,0],[25.18,-10],[25.24,-5],[25.3,30],[25.36,15],[25.42,0],[26.5,0],[27.0,3],[27.3,5],[27.38,0],[27.48,0],[27.6,null],[27.72,0],
  [30.2,0],[30.3,25],[30.42,40],[30.55,45],[30.68,40],[30.82,30],[30.92,15],[31.0,0],[31.28,0],[31.4,null],[31.52,0],
  [32.18,0],[32.22,10],[32.26,15],[32.3,8],[32.35,0],[33.6,0],[33.8,-3],[33.92,-5],[34.02,5],[34.12,18],[34.22,25],[34.35,20],[34.45,12],[34.55,0],[34.68,0],[34.8,null],[34.92,0],
  [37.1,0],[37.13,30],[37.16,45],[37.2,47],[37.24,30],[37.29,0],[38.08,0],[38.2,null],[38.32,0],[40,0]];

// G: Vz, ipsi train
const gVzAct = [[0,0],[2.1,0],[2.22,-8],[2.35,-22],[2.5,-30],[2.65,-26],[2.85,-14],[3.05,-3],[3.15,0],[3.38,0],[3.5,null],[3.62,0],
  [5.65,0],[5.78,-12],[5.92,-32],[6.08,-42],[6.2,-36],[6.35,-18],[6.5,-3],[6.58,0],[6.68,0],[6.8,null],[6.92,0],
  [9.2,0],[9.3,12],[9.42,32],[9.5,40],[9.6,30],[9.7,10],[9.8,0],[10.23,0],[10.35,null],[10.47,0],
  [12.4,0],[12.55,15],[12.7,42],[12.85,58],[12.95,55],[13.08,38],[13.2,30],[13.35,30],[13.45,18],[13.55,0],[13.68,0],[13.8,null],[13.92,0],
  [15.8,0],[15.95,-12],[16.1,-27],[16.25,-33],[16.4,-28],[16.6,-15],[16.8,-5],[16.95,0],[17.18,0],[17.3,null],[17.42,0],
  [19.4,0],[19.5,12],[19.62,30],[19.75,35],[19.85,28],[19.98,15],[20.15,10],[20.35,4],[20.5,0],[20.78,0],[20.9,null],[21.02,0],
  [23.0,0],[23.12,15],[23.25,40],[23.38,50],[23.5,42],[23.62,20],[23.75,3],[23.82,0],[24.68,0],[24.8,null],[24.92,0],
  [26.45,0],[26.52,-12],[26.6,-35],[26.7,-50],[26.8,-35],[26.9,-12],[27.0,0],[27.48,0],[27.6,null],[27.72,0],
  [29.9,0],[30.05,-8],[30.2,-17],[30.32,-20],[30.5,-15],[30.7,-10],[30.95,-5],[31.15,0],[31.18,0],[31.3,null],[31.42,0],
  [33.7,0],[33.82,-12],[33.95,-26],[34.05,-30],[34.15,-25],[34.3,-10],[34.45,0],[34.78,0],[34.9,null],[35.02,0],
  [37.0,0],[37.15,-8],[37.3,-16],[37.45,-20],[37.6,-15],[37.8,-7],[38.0,0],[38.38,0],[38.5,null],[38.62,0],[40,0]];
const gVzPred = [[0,0],[1.8,0],[1.9,6],[1.96,8],[2.05,-3],[2.15,-18],[2.3,-33],[2.42,-38],[2.55,-33],[2.7,-28],[2.85,-28],[3.0,-28],[3.08,-15],[3.15,0],[3.38,0],[3.5,null],[3.62,0],
  [5.5,0],[5.58,-22],[5.67,-45],[5.75,-50],[5.85,-40],[5.95,-22],[6.05,-14],[6.2,-12],[6.35,-12],[6.45,-6],[6.52,0],[6.68,0],[6.8,null],[6.92,0],
  [9.1,0],[9.17,25],[9.25,48],[9.35,55],[9.48,52],[9.58,40],[9.68,15],[9.78,0],[10.23,0],[10.35,null],[10.47,0],
  [11.7,0],[11.73,30],[11.77,48],[11.8,50],[11.85,25],[11.9,0],[12.3,0],[12.45,15],[12.6,35],[12.72,45],[12.85,42],[13.0,35],[13.15,29],[13.3,28],[13.42,26],[13.5,10],[13.56,0],[13.68,0],[13.8,null],[13.92,0],
  [15.7,0],[15.77,-12],[15.84,-25],[15.95,-22],[16.1,-20],[16.28,-23],[16.42,-25],[16.6,-20],[16.75,-12],[16.9,0],[17.18,0],[17.3,null],[17.42,0],
  [19.2,0],[19.27,30],[19.35,48],[19.42,52],[19.52,50],[19.62,42],[19.75,20],[19.88,0],[20.0,-8],[20.15,-14],[20.3,-18],[20.42,-20],[20.6,-16],[20.75,-16],[20.88,-20],[20.95,-10],[21.0,0],[21.02,0],
  [22.9,0],[22.97,22],[23.05,36],[23.12,40],[23.22,34],[23.35,18],[23.48,4],[23.55,0],[24.68,0],[24.8,null],[24.92,0],
  [26.35,0],[26.42,-30],[26.48,-55],[26.55,-65],[26.62,-30],[26.7,0],[26.8,14],[26.9,22],[27.0,16],[27.12,5],[27.25,0],[27.48,0],[27.6,null],[27.72,0],
  [29.6,0],[29.7,8],[29.78,12],[29.88,6],[30.0,-8],[30.15,-18],[30.3,-25],[30.45,-28],[30.6,-22],[30.75,-12],[30.9,0],[31.18,0],[31.3,null],[31.42,0],
  [33.9,0],[34.0,6],[34.1,12],[34.2,15],[34.32,10],[34.45,4],[34.6,0],[34.78,0],[34.9,null],[35.02,0],
  [37.1,0],[37.25,-10],[37.4,-24],[37.55,-32],[37.65,-33],[37.8,-25],[37.95,-12],[38.1,0],[38.38,0],[38.5,null],[38.62,0],[40,0]];
const gVzSurr = [[0,0],[2.2,0],[2.35,-8],[2.5,-15],[2.65,-12],[2.85,-4],[3.0,0],[3.38,0],[3.5,null],[3.62,0],
  [5.6,0],[5.75,15],[5.92,40],[6.05,50],[6.12,52],[6.25,45],[6.4,33],[6.55,22],[6.7,17],[6.82,15],[6.92,0],[7.0,0],
  [8.95,0],[9.02,-15],[9.1,-30],[9.15,-35],[9.22,-25],[9.32,-8],[9.45,5],[9.58,10],[9.68,6],[9.75,0],[10.23,0],[10.35,null],[10.47,0],
  [11.7,0],[11.82,-10],[11.9,-15],[11.98,-8],[12.1,-4],[12.3,-5],[12.45,-15],[12.6,-28],[12.78,-37],[12.95,-41],[13.1,-42],[13.25,-38],[13.42,-25],[13.58,-10],[13.68,0],[13.8,null],[13.92,0],
  [15.6,0],[15.72,12],[15.85,30],[16.0,45],[16.12,52],[16.25,50],[16.45,42],[16.7,32],[16.9,25],[17.05,21],[17.12,18],[17.18,0],[17.3,null],[17.42,0],
  [19.5,0],[19.56,-18],[19.64,-38],[19.72,-50],[19.78,-52],[19.86,-25],[19.95,8],[20.05,20],[20.12,22],[20.25,17],[20.45,10],[20.65,4],[20.78,0],[20.9,null],[21.02,0],
  [23.1,0],[23.2,12],[23.32,32],[23.43,45],[23.52,40],[23.65,20],[23.78,5],[23.85,0],[24.68,0],[24.8,null],[24.92,0],
  [26.5,0],[26.58,8],[26.65,16],[26.72,20],[26.82,12],[26.95,-3],[27.05,-5],[27.18,0],[27.48,0],[27.6,null],[27.72,0],
  [29.7,0],[29.78,8],[29.86,14],[29.92,15],[30.05,8],[30.2,5],[30.4,8],[30.55,10],[30.7,7],[30.85,3],[31.0,0],[31.18,0],[31.3,null],[31.42,0],
  [33.65,0],[33.72,-10],[33.8,-25],[33.88,-38],[33.95,-35],[34.05,-15],[34.15,-3],[34.3,0],[34.78,0],[34.9,null],[35.02,0],
  [36.5,0],[36.6,6],[36.7,15],[36.78,20],[36.88,12],[37.0,-5],[37.12,-20],[37.2,-25],[37.3,-18],[37.42,-5],[37.55,5],[37.7,12],[37.85,17],[37.95,18],[38.05,10],[38.15,0],[38.38,0],[38.5,null],[38.62,0],[40,0]];

// H: Vz, contra train
const hVzAct = [[0,0],[1.98,0],[2.08,-12],[2.18,-30],[2.28,-38],[2.38,-32],[2.5,-14],[2.62,-3],[2.7,0],[3.08,0],[3.2,null],[3.32,0],
  [5.2,0],[5.32,10],[5.45,22],[5.6,31],[5.75,33],[5.95,32],[6.1,25],[6.25,12],[6.4,0],[6.68,0],[6.8,null],[6.92,0],
  [8.78,0],[8.88,-12],[8.98,-32],[9.08,-42],[9.18,-36],[9.3,-18],[9.45,-3],[9.52,0],[10.08,0],[10.2,null],[10.32,0],
  [12.2,0],[12.3,-12],[12.42,-38],[12.55,-55],[12.65,-48],[12.78,-25],[12.9,-5],[13.02,10],[13.12,22],[13.22,28],[13.28,20],[13.36,0],[13.58,0],[13.7,null],[13.82,0],
  [15.8,0],[15.9,-10],[16.02,-25],[16.15,-32],[16.28,-28],[16.42,-14],[16.55,-2],[16.65,5],[16.72,4],[16.8,0],[16.98,0],[17.1,null],[17.22,0],
  [19.2,0],[19.3,12],[19.42,32],[19.55,45],[19.65,40],[19.78,18],[19.9,3],[20.0,0],[20.08,0],[20.2,null],[20.32,0],
  [22.9,0],[23.02,-8],[23.15,-18],[23.3,-25],[23.45,-22],[23.65,-14],[23.85,-4],[23.95,0],[24.48,0],[24.6,null],[24.72,0],
  [26.5,0],[26.6,-12],[26.72,-35],[26.85,-52],[26.92,-55],[27.02,-42],[27.15,-15],[27.28,0],[27.48,0],[27.6,null],[27.72,0],
  [29.9,0],[30.0,-12],[30.12,-32],[30.25,-46],[30.32,-48],[30.42,-38],[30.55,-15],[30.7,0],[31.28,0],[31.4,null],[31.52,0],
  [33.4,0],[33.52,-12],[33.65,-28],[33.8,-36],[33.92,-37],[34.05,-30],[34.18,-15],[34.28,0],[34.35,6],[34.42,8],[34.5,0],[34.68,0],[34.8,null],[34.92,0],
  [38.08,0],[38.2,null],[38.32,0],[40,0]];
const hVzPred = [[0,0],[1.8,0],[1.87,-18],[1.94,-28],[2.02,-25],[2.12,-18],[2.25,-10],[2.38,-9],[2.48,-12],[2.58,-15],[2.66,-8],[2.75,0],[3.08,0],[3.2,null],[3.32,0],
  [5.25,0],[5.35,10],[5.45,22],[5.53,28],[5.62,22],[5.72,10],[5.85,-5],[5.98,-18],[6.08,-25],[6.18,-20],[6.28,0],[6.68,0],[6.8,null],[6.92,0],
  [8.95,0],[9.05,6],[9.12,10],[9.2,8],[9.3,0],[9.45,-8],[9.6,-15],[9.7,-20],[9.76,-10],[9.82,0],[10.08,0],[10.2,null],[10.32,0],
  [12.3,0],[12.42,-8],[12.55,-14],[12.62,-15],[12.75,-11],[12.9,-4],[13.0,0],[13.58,0],[13.7,null],[13.82,0],
  [15.7,0],[15.82,-10],[15.95,-25],[16.1,-38],[16.25,-44],[16.35,-45],[16.45,-35],[16.58,-15],[16.7,0],[16.98,0],[17.1,null],[17.22,0],
  [19.6,0],[19.7,6],[19.8,14],[19.9,18],[20.0,10],[20.1,2],[20.15,0],[20.2,null],[20.32,0],
  [22.4,0],[22.5,-10],[22.62,-25],[22.75,-37],[22.85,-40],[22.98,-36],[23.15,-26],[23.35,-12],[23.5,-3],[23.6,0],[24.48,0],[24.6,null],[24.72,0],
  [24.8,0],[24.84,10],[24.88,12],[24.93,5],[24.97,0],[25.05,-4],[25.12,-5],[25.2,0],
  [30.1,0],[30.25,-4],[30.45,-8],[30.65,-6],[30.8,-6],[30.92,-12],[31.0,-15],[31.06,-8],[31.12,0],[31.28,0],[31.4,null],[31.52,0],
  [32.1,0],[32.18,-15],[32.25,-20],[32.32,-10],[32.4,0],[33.3,0],[33.42,8],[33.5,10],[33.58,5],[33.66,0],[33.78,-15],[33.9,-27],[34.0,-30],[34.12,-22],[34.25,-8],[34.38,0],[34.68,0],[34.8,null],[34.92,0],
  [37.0,0],[37.07,15],[37.15,35],[37.23,48],[37.3,52],[37.38,42],[37.47,22],[37.55,5],[37.6,0],[38.08,0],[38.2,null],[38.32,0],[40,0]];
const hVzSurr = [[0,0],[1.85,0],[1.93,-5],[2.02,-10],[2.12,-8],[2.22,-4],[2.35,0],[2.5,3],[2.6,5],[2.68,2],[2.75,0],[3.08,0],[3.2,null],[3.32,0],
  [5.2,0],[5.3,8],[5.42,20],[5.55,28],[5.62,30],[5.72,24],[5.82,12],[5.95,0],[6.08,-6],[6.18,-10],[6.28,-5],[6.35,0],[6.68,0],[6.8,null],[6.92,0],
  [8.95,0],[9.05,-5],[9.12,-10],[9.2,-9],[9.35,-6],[9.5,-3],[9.6,0],[10.08,0],[10.2,null],[10.32,0],
  [12.2,0],[12.28,-12],[12.36,-22],[12.45,-25],[12.55,-20],[12.7,-15],[12.85,-15],[12.95,-8],[13.05,0],[13.58,0],[13.7,null],[13.82,0],
  [15.6,0],[15.7,4],[15.76,5],[15.84,-3],[15.94,-14],[16.05,-22],[16.18,-25],[16.3,-18],[16.42,-8],[16.55,0],[16.98,0],[17.1,null],[17.22,0],
  [19.65,0],[19.75,-4],[19.85,-8],[19.92,-10],[19.98,-5],[20.05,0],[20.08,0],[20.2,null],[20.32,0],
  [22.3,0],[22.42,6],[22.55,12],[22.68,15],[22.8,12],[22.95,5],[23.08,0],[24.48,0],[24.6,null],[24.72,0],
  [24.85,0],[24.89,-20],[24.93,-40],[24.97,-30],[25.02,0],[25.12,4],[25.2,5],[25.28,0],
  [29.9,0],[30.0,8],[30.1,18],[30.2,24],[30.27,25],[30.35,15],[30.45,4],[30.55,0],[31.28,0],[31.4,null],[31.52,0],
  [32.95,0],[33.08,8],[33.15,10],[33.25,3],[33.35,-5],[33.45,5],[33.58,22],[33.72,38],[33.85,47],[33.92,48],[34.02,42],[34.15,28],[34.28,8],[34.35,0],[34.68,0],[34.8,null],[34.92,0],
  [36.9,0],[37.02,-5],[37.12,-12],[37.22,-20],[37.3,-22],[37.38,-15],[37.48,-5],[37.6,0],[38.08,0],[38.2,null],[38.32,0],[40,0]];

// panel geometry (page pixels of the plot box)
const panels = [
  { x0: 70,  x1: 480, y0: 130, y1: 233, yt: 46, ylab: "Speed (cm/s)", min: 0,   max: 100, ticks: speedTicks, minor: speedMinor, s: [aSpdAct, aSpdPred, aSpdSurr] },
  { x0: 580, x1: 990, y0: 130, y1: 233, yt: 46, ylab: "Speed (cm/s)", min: 0,   max: 100, ticks: speedTicks, minor: speedMinor, s: [bSpdAct, bSpdPred, bSpdSurr] },
  { x0: 73,  x1: 478, y0: 366, y1: 472, yt: 53, ylab: "Vx (cm/s)",    min: -60, max: 60,  ticks: velTicks,   minor: velMinor,   s: [cVxAct, cVxPred, cVxSurr] },
  { x0: 583, x1: 988, y0: 366, y1: 472, yt: 50, ylab: "Vx (cm/s)",    min: -60, max: 60,  ticks: velTicks,   minor: velMinor,   s: [dVxAct, dVxPred, dVxSurr] },
  { x0: 70,  x1: 480, y0: 562, y1: 666, yt: 48, ylab: "Vy (cm/s)",    min: -60, max: 60,  ticks: velTicks,   minor: velMinor,   s: [eVyAct, eVyPred, eVySurr] },
  { x0: 580, x1: 989, y0: 562, y1: 666, yt: 46, ylab: "Vy (cm/s)",    min: -60, max: 60,  ticks: velTicks,   minor: velMinor,   s: [fVyAct, fVyPred, fVySurr] },
  { x0: 69,  x1: 479, y0: 755, y1: 861, yt: 47, ylab: "Vz (cm/s)",    min: -60, max: 60,  ticks: velTicks,   minor: velMinor,   s: [gVzAct, gVzPred, gVzSurr] },
  { x0: 579, x1: 989, y0: 755, y1: 861, yt: 46, ylab: "Vz (cm/s)",    min: -60, max: 60,  ticks: velTicks,   minor: velMinor,   s: [hVzAct, hVzPred, hVzSurr] }
];

const legendBoxes = [
  { left: 339, top: 78,  w: 138, h: 69 },
  { left: 851, top: 78,  w: 136, h: 69 },
  { left: 340, top: 308, w: 135, h: 67 },
  { left: 851, top: 308, w: 136, h: 67 }
];

const colors = ["#0000ff", "#ff0000", "#14963a"];
const textCol = "#1a1a1a";
const axisCol = "#808080";
const YW = 70, XH = 41, PT = 15, PR = 20;

const innerTicks = {
  id: "innerTicks",
  afterDraw(chart, args, o) {
    const { ctx, chartArea: a, scales: { x, y } } = chart;
    ctx.save();
    ctx.strokeStyle = axisCol;
    ctx.lineWidth = 1;
    ctx.beginPath();
    o.xt.forEach(v => {
      const px = Math.round(x.getPixelForValue(v)) + 0.5;
      ctx.moveTo(px, a.bottom); ctx.lineTo(px, a.bottom - 4);
    });
    o.yt.forEach(v => {
      const py = Math.round(y.getPixelForValue(v)) + 0.5;
      ctx.moveTo(a.left, py); ctx.lineTo(a.left + 4, py);
    });
    ctx.stroke();
    ctx.restore();
  }
};

const toXY = arr => arr.map(([x, y]) => ({ x, y }));
const holder = document.getElementById("charts");

panels.forEach(p => {
  const cv = document.createElement("canvas");
  const w = YW + (p.x1 - p.x0) + PR;
  const h = PT + (p.y1 - p.y0) + XH;
  cv.width = w; cv.height = h;
  cv.style.left = (p.x0 - YW) + "px";
  cv.style.top = (p.y0 - PT) + "px";
  holder.appendChild(cv);

  const [act, pred, surr] = p.s;
  const ds = (d, i, dash) => ({
    label: seriesNames[i],
    data: toXY(d),
    borderColor: colors[i],
    borderWidth: 3.5,
    borderDash: dash,
    pointRadius: 0,
    fill: false,
    spanGaps: false,
    cubicInterpolationMode: "monotone"
  });

  new Chart(cv.getContext("2d"), {
    type: "line",
    data: { datasets: [ds(surr, 2, [5, 4]), ds(pred, 1, []), ds(act, 0, [])] },
    options: {
      responsive: false,
      animation: false,
      devicePixelRatio: 1,
      layout: { padding: { left: 0, top: PT, right: PR, bottom: 0 } },
      plugins: {
        legend: { display: false },
        tooltip: { enabled: false },
        innerTicks: { xt: timeMinor, yt: p.minor }
      },
      scales: {
        x: {
          type: "linear", min: 0, max: 40,
          afterBuildTicks: s => { s.ticks = timeTicks.map(v => ({ value: v })); },
          afterFit: s => { s.height = XH; },
          ticks: { font: { family: "Liberation Sans", size: 22, lineHeight: 1 }, color: textCol, padding: 2, maxRotation: 0, autoSkip: false },
          grid: { display: false, drawTicks: false },
          border: { color: axisCol, width: 1 },
          title: { display: true, text: "Time (s)", color: textCol, font: { family: "Liberation Sans", size: 23, lineHeight: 1 }, padding: { top: 0, bottom: 0 } }
        },
        y: {
          type: "linear", min: p.min, max: p.max,
          afterBuildTicks: s => { s.ticks = p.ticks.map(v => ({ value: v })); },
          afterFit: s => { s.width = YW; },
          ticks: { font: { family: "Liberation Sans", size: 22, lineHeight: 1 }, color: textCol, padding: 4 },
          grid: { display: false, drawTicks: false },
          border: { color: axisCol, width: 1 },
          title: { display: true, text: p.ylab, color: textCol, font: { family: "Liberation Sans", size: 23, lineHeight: 1 }, padding: { top: YW - p.yt - 11.5, bottom: 0 } }
        }
      }
    },
    plugins: [innerTicks]
  });
});

// legends
const lh = document.getElementById("legends");
const rowY = [12, 34, 55];
legendBoxes.forEach(b => {
  const box = document.createElement("div");
  box.className = "leg";
  box.style.cssText = `left:${b.left}px;top:${b.top}px;width:${b.w}px;height:${b.h}px`;
  seriesNames.forEach((n, i) => {
    const row = document.createElement("div");
    row.style.top = (rowY[i] * b.h / 69) + "px";
    const mk = document.createElement("span");
    mk.style.borderTopColor = colors[i];
    if (i === 2) { mk.style.borderTopStyle = "dotted"; mk.style.width = "8px"; mk.style.left = "-11px"; }
    row.appendChild(mk);
    row.appendChild(document.createTextNode(n));
    box.appendChild(row);
  });
  lh.appendChild(box);
});
</script>
</body>
</html>
